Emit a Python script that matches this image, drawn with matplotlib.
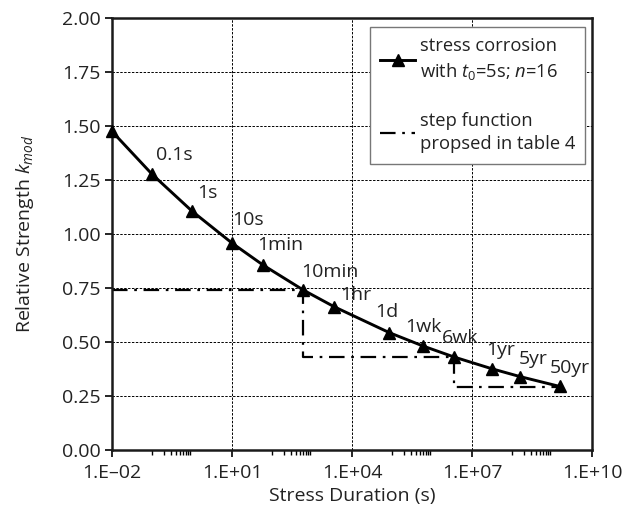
import numpy as np
import matplotlib
matplotlib.use("Agg")
import matplotlib.pyplot as plt
from matplotlib.ticker import FixedLocator, FuncFormatter

plt.rcParams['font.family'] = ['Open Sans', 'DejaVu Sans']
plt.rcParams['mathtext.fontset'] = 'custom'
plt.rcParams['mathtext.rm'] = 'Open Sans'
plt.rcParams['mathtext.it'] = 'Open Sans:italic'
plt.rcParams['mathtext.bf'] = 'Open Sans:bold'

# ---- data ----
durations_s = [0.01, 0.1, 1, 10, 60, 600, 3600, 86400, 604800, 3628800,
               31536000, 157680000, 1576800000]
kmod = [1.475, 1.277, 1.106, 0.958, 0.856, 0.741, 0.663, 0.543, 0.481,
        0.430, 0.376, 0.340, 0.294]
point_labels = ["", "0.1s", "1s", "10s", "1min", "10min", "1hr", "1d", "1wk",
                "6wk", "1yr", "5yr", "50yr"]

step_x = [0.01, 600, 600, 3628800, 3628800, 1576800000]
step_y = [0.74, 0.74, 0.43, 0.43, 0.293, 0.293]

x_major = [1e-2, 1e1, 1e4, 1e7, 1e10]
y_major = [0.0, 0.25, 0.5, 0.75, 1.0, 1.25, 1.5, 1.75, 2.0]

# label offsets (pixels, centre of text relative to point)
lab_dx = [0, 22, 15, 16, 17, 27, 21, -3, 0, 6, 9, 13, 10]
lab_dy = [0, 19, 18, 23, 20, 18, 12, 21, 19, 19, 19, 18, 18]

FS = 14
DPI = 100
fig = plt.figure(figsize=(6.27, 5.14), dpi=DPI)
ax = fig.add_axes([112/627, 1-450/514, (592-112)/627, (450-18)/514])

ax.set_xscale('log')
ax.set_xlim(1e-2, 1e10)
ax.set_ylim(0, 2)

# grid
for xv in x_major[1:-1]:
    ax.axvline(xv, color='black', lw=0.7, ls=(0, (2.5, 1.5)), zorder=1)
for yv in y_major[1:-1]:
    ax.axhline(yv, color='black', lw=0.7, ls=(0, (2.5, 1.5)), zorder=1)

h_step, = ax.plot(step_x, step_y, color='black', lw=1.6, ls=(0, (7, 3, 1.2, 3)),
                  zorder=2, label='step function\npropsed in table 4')
ln, = ax.plot(durations_s, kmod, color='black', lw=2.1, marker='^',
              markersize=9, zorder=3, clip_on=False,
              label='stress corrosion\nwith $\\mathit{t}_\\mathrm{0}$=5s; $\\mathit{n}$=16')

px2pt = 72.0 / DPI
for x, y, t, dx, dy in zip(durations_s, kmod, point_labels, lab_dx, lab_dy):
    if t:
        ax.annotate(t, (x, y), xytext=(dx*px2pt, dy*px2pt), textcoords='offset points',
                    ha='center', va='center', fontsize=FS, color='#222222', zorder=4)

# ticks
ax.xaxis.set_major_locator(FixedLocator(x_major))
minors = []
for m in [-2, 1, 4, 7]:
    for k in range(1, 10):
        minors.append(k * 10.0**(m+1))
ax.xaxis.set_minor_locator(FixedLocator(minors))

def xfmt(v, pos):
    e = int(round(np.log10(v)))
    s = '+' if e >= 0 else '\u2013'
    return f"1.E{s}{abs(e):02d}"
ax.xaxis.set_major_formatter(FuncFormatter(xfmt))
ax.xaxis.set_minor_formatter(FuncFormatter(lambda v, p: ""))
ax.yaxis.set_major_locator(FixedLocator(y_major))
ax.yaxis.set_major_formatter(FuncFormatter(lambda v, p: f"{v:.2f}"))

ax.tick_params(axis='both', which='major', direction='out', length=5, width=1.2,
               labelsize=FS, colors='black', labelcolor='#222222', pad=3)
ax.tick_params(axis='x', which='major', pad=5)
ax.tick_params(axis='x', which='minor', direction='out', length=3.5, width=1.0)

for sp in ax.spines.values():
    sp.set_linewidth(1.8)
    sp.set_color('#1a1a1a')

ax.set_xlabel('Stress Duration (s)', fontsize=FS, color='#222222', labelpad=4)
ax.set_ylabel('Relative Strength $\\mathit{k}_{\\mathit{mod}}$', fontsize=FS,
              color='#222222')
ax.yaxis.set_label_coords((36-112)/480, 0.5)

leg = ax.legend([ln, h_step], [ln.get_label(), h_step.get_label()],
                loc='upper left', bbox_to_anchor=(370/627, 1-27/514),
                bbox_transform=fig.transFigure, borderaxespad=0,
                fontsize=13.2, frameon=True, fancybox=False, numpoints=1,
                handlelength=1.9, handletextpad=0.25, labelspacing=1.6,
                borderpad=0.55, labelcolor='#222222')
for t in leg.get_texts():
    t.set_linespacing(1.4)
leg.get_frame().set_edgecolor('#777777')
leg.get_frame().set_linewidth(1.0)
leg.get_frame().set_alpha(1)

fig.savefig('out.png', dpi=DPI)
